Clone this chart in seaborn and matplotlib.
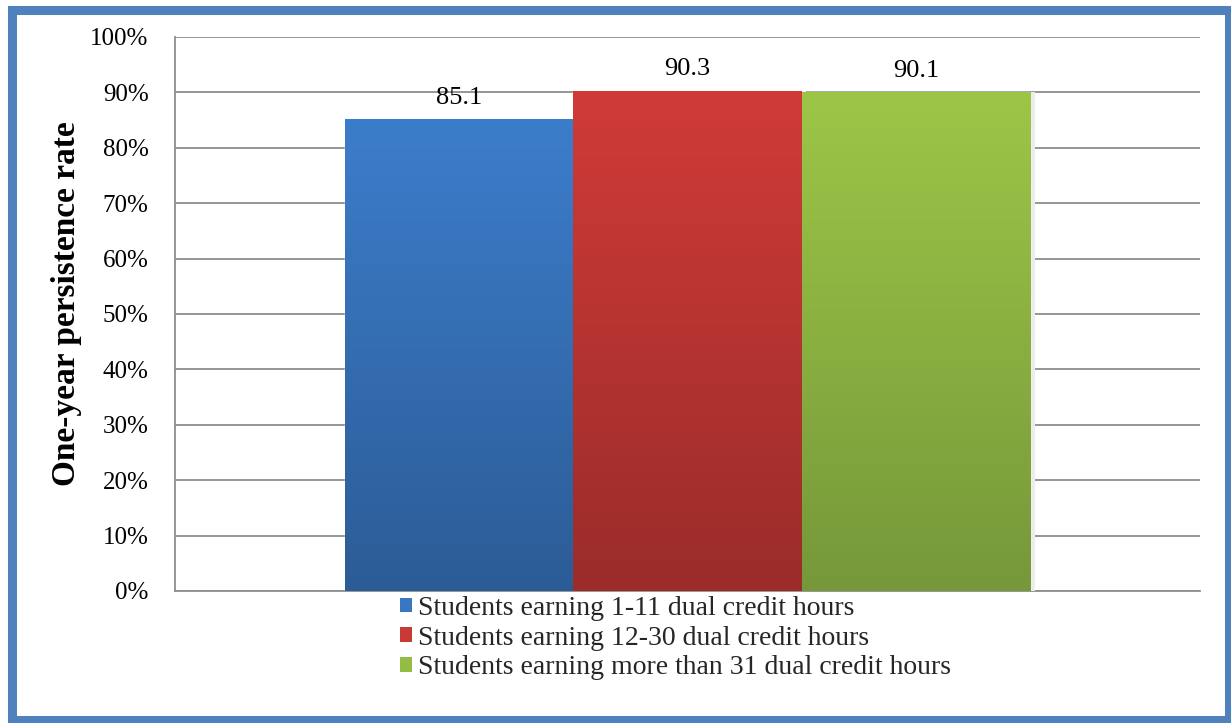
import numpy as np
import pandas as pd
import matplotlib
matplotlib.use("Agg")
import matplotlib.pyplot as plt
import seaborn as sns
from matplotlib.colors import LinearSegmentedColormap
from matplotlib.patches import Rectangle

# ---- data ----
groups = [
    "Students earning 1-11 dual credit hours",
    "Students earning 12-30 dual credit hours",
    "Students earning more than 31 dual credit hours",
]
rates = [85.1, 90.3, 90.1]
y_ticks = [0, 10, 20, 30, 40, 50, 60, 70, 80, 90, 100]
y_label = "One-year persistence rate"

top_colors = ["#3C7DCB", "#D03B38", "#9DC647"]
bottom_colors = ["#2C5C96", "#9A2C2A", "#76983A"]
mid_colors = ["#3A77C2", "#C73A36", "#93BC43"]

sns.set_theme(style="white")
plt.rcParams['font.family'] = ['Liberation Serif', 'DejaVu Serif']

fig = plt.figure(figsize=(12.31, 7.23), dpi=100)
ax = fig.add_axes([0.1422, 0.1826, 0.8327, 0.7663])

df = pd.DataFrame({"cat": [""] * len(groups), "group": groups, "rate": rates})
sns.barplot(data=df, x="cat", y="rate", hue="group", hue_order=groups,
            palette=mid_colors, width=0.669, ax=ax, legend=False,
            saturation=1, zorder=3)

ax.set_ylim(0, 100)
xlim = ax.get_xlim()

# gradient fill for bars
bars = [p for p in ax.patches]
for i, p in enumerate(bars):
    x0, y0 = p.get_x(), p.get_y()
    w, h = p.get_width(), p.get_height()
    cmap = LinearSegmentedColormap.from_list(f"g{i}", [bottom_colors[i], top_colors[i]])
    grad = np.linspace(0, 1, 256).reshape(-1, 1)
    im = ax.imshow(grad, extent=[x0, x0 + w, y0, y0 + h], origin="lower",
                   cmap=cmap, aspect="auto", zorder=3.5)
    im.set_clip_path(p)
    # subtle shadow on right side
    ax.add_patch(Rectangle((x0 + w, y0), 0.004, h, facecolor="#ececec",
                           edgecolor="none", zorder=2.9))
    ax.annotate(f"{rates[i]:.1f}", xy=(x0 + w / 2, rates[i]), xytext=(0, 11),
                textcoords="offset points", ha="center", va="baseline",
                fontsize=19, color="black", zorder=5)

ax.set_xlim(xlim)
ax.set_ylim(0, 100)
ax.set_yticks(y_ticks)
ax.set_yticklabels([f"{t}%" for t in y_ticks], fontsize=18, color="black")
ax.set_xticks([])
ax.set_xlabel("")
ax.set_ylabel(y_label, fontsize=24, fontweight="bold", color="black")
ax.yaxis.set_label_coords(-0.091, 0.518)
ax.tick_params(axis="y", length=0, pad=19)

ax.yaxis.grid(True, color="#8E8E8E", linewidth=1.3, zorder=1)
ax.set_axisbelow(True)
for s in ["top", "right"]:
    ax.spines[s].set_visible(False)
for s in ["left", "bottom"]:
    ax.spines[s].set_color("#8E8E8E")
    ax.spines[s].set_linewidth(1.3)

handles = [Rectangle((0, 0), 1, 1, facecolor=c, edgecolor="none") for c in mid_colors]
fig.legend(handles, groups, loc="upper left", bbox_to_anchor=(400 / 1231, 1 - 596 / 723),
           frameon=False, fontsize=20, handlelength=0.44, handleheight=0.44,
           handletextpad=0.2, labelspacing=0.17, borderpad=0, borderaxespad=0)

# outer blue border
fig.patches.append(Rectangle((12 / 1231, 3.5 / 723), (1229 - 12) / 1231, (720 - 7.5 - 3) / 723,
                             transform=fig.transFigure, fill=False,
                             edgecolor="#4F81BD", linewidth=6.5))

fig.savefig("out.png", dpi=100)
